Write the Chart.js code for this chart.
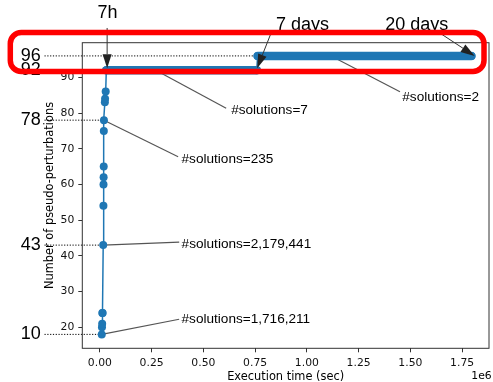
<!DOCTYPE html>
<html>
<head>
<meta charset="utf-8">
<script src="https://cdn.jsdelivr.net/npm/chart.js@4.4.1/dist/chart.umd.min.js"></script>
<style>
  body { margin: 0; background: #fff; }
  #wrap { width: 493px; height: 382px; }
</style>
</head>
<body>
<div id="wrap"><canvas id="myChart" width="493" height="382"></canvas></div>
<script>
// execution time (sec) vs number of pseudo-perturbations
var timeSec = [9000, 10000, 11000, 12000, 13000, 16000, 17000, 17500, 18000, 18500, 19000, 19500,
    24000, 25000, 28000, 31000, 758000, 762000, 1795000];
var pseudoPert = [18, 20, 21, 24, 24, 43, 54, 60, 62, 65, 75, 78, 83, 84, 86, 92, 92, 96, 96];

// the two long plateaus (drawn with dense markers in the original)
var plateau92Time = [31000, 758000];
var plateau92Val = [92, 92];
var plateau96Time = [762000, 1795000];
var plateau96Val = [96, 96];

var xTicks = [0, 250000, 500000, 750000, 1000000, 1250000, 1500000, 1750000];
var yTicks = [20, 30, 40, 50, 60, 70, 80, 90];

// big numbers on the left with their dotted guide lines
var sideLabels = ['96', '92', '78', '43', '10'];
var sideLabelY = [96, 92, 78, 43, 18];
var sideLineEndX = [762000, 31000, 19500, 16000, 9000];

// "#solutions" notes: anchor in data units, text / line end as pixel offsets
var solTexts = ['#solutions=7', '#solutions=2', '#solutions=235', '#solutions=2,179,441', '#solutions=1,716,211'];
var solAnchorX = [270000, 1117000, 19500, 16000, 9000];
var solAnchorY = [92, 96, 78, 43, 18];
var solTextOff = [[75.4, 40.5], [71.2, 41.8], [77.6, 38.8], [78.4, -0.7], [79.8, -14.9]];
var solLineEnd = [[70.4, 38.1], [68.9, 35.8], [74.2, 36.5], [76, -2.9], [77.4, -15.1]];

// arrows with time labels
var arrowTexts = ['7h', '7 days', '20 days'];
var arrowX = [35000, 760000, 1795000];
var arrowY = [92, 92, 96];
var arrowTip = [[0, -2], [0, -2], [3.2, 0]];
var arrowTail = [[0, -42.2], [13.9, -37.2], [-30.1, -21.9]];
var arrowTextOff = [[0.4, -56.9], [45.3, -45.2], [-54.6, -30.9]];

const BLUE = '#1f77b4';
const SANS = '"Liberation Sans", Arial, sans-serif';
const DJV = '"DejaVu Sans", sans-serif';

function pts(xs, ys) {
    return xs.map((x, i) => ({x: x, y: ys[i]}));
}

function arrowHead(ctx, x0, y0, x1, y1) {
    var a = Math.atan2(y1 - y0, x1 - x0);
    var len = 14, hw = 4.5;
    var bx = x1 - len * Math.cos(a), by = y1 - len * Math.sin(a);
    ctx.strokeStyle = '#333';
    ctx.lineWidth = 1;
    ctx.beginPath();
    ctx.moveTo(x0, y0);
    ctx.lineTo(bx, by);
    ctx.stroke();
    ctx.fillStyle = '#222';
    ctx.beginPath();
    ctx.moveTo(x1, y1);
    ctx.lineTo(bx + hw * Math.sin(a), by - hw * Math.cos(a));
    ctx.lineTo(bx - hw * Math.sin(a), by + hw * Math.cos(a));
    ctx.closePath();
    ctx.fill();
}

const under = {
    id: 'under',
    beforeDatasetsDraw(chart) {
        const ctx = chart.ctx, xs = chart.scales.x, ys = chart.scales.y;
        ctx.save();
        // dotted guides
        ctx.strokeStyle = '#000';
        ctx.lineWidth = 1;
        ctx.setLineDash([1.2, 1.6]);
        for (var i = 0; i < sideLabels.length; i++) {
            var py = ys.getPixelForValue(sideLabelY[i]);
            ctx.beginPath();
            ctx.moveTo(44.5, py);
            ctx.lineTo(xs.getPixelForValue(sideLineEndX[i]), py);
            ctx.stroke();
        }
        ctx.setLineDash([]);
        // connector lines to notes
        ctx.strokeStyle = '#555';
        ctx.lineWidth = 1.2;
        for (var j = 0; j < solTexts.length; j++) {
            var ax = xs.getPixelForValue(solAnchorX[j]), ay = ys.getPixelForValue(solAnchorY[j]);
            ctx.beginPath();
            ctx.moveTo(ax, ay);
            ctx.lineTo(ax + solLineEnd[j][0], ay + solLineEnd[j][1]);
            ctx.stroke();
        }
        ctx.restore();
    }
};

const over = {
    id: 'over',
    afterDatasetsDraw(chart) {
        const ctx = chart.ctx, xs = chart.scales.x, ys = chart.scales.y, ca = chart.chartArea;
        ctx.save();
        // axes box
        ctx.strokeStyle = '#333';
        ctx.lineWidth = 1;
        ctx.strokeRect(ca.left, ca.top, ca.right - ca.left, ca.bottom - ca.top);

        // notes
        ctx.fillStyle = '#000';
        ctx.font = '13.6px ' + SANS;
        ctx.textAlign = 'left';
        ctx.textBaseline = 'middle';
        for (var j = 0; j < solTexts.length; j++) {
            var ax = xs.getPixelForValue(solAnchorX[j]), ay = ys.getPixelForValue(solAnchorY[j]);
            ctx.fillText(solTexts[j], ax + solTextOff[j][0], ay + solTextOff[j][1]);
        }

        // arrows
        ctx.font = '18px ' + SANS;
        ctx.textAlign = 'center';
        for (var k = 0; k < arrowTexts.length; k++) {
            var bx = xs.getPixelForValue(arrowX[k]), by = ys.getPixelForValue(arrowY[k]);
            arrowHead(ctx, bx + arrowTail[k][0], by + arrowTail[k][1], bx + arrowTip[k][0], by + arrowTip[k][1]);
            ctx.fillStyle = '#000';
            ctx.fillText(arrowTexts[k], bx + arrowTextOff[k][0], by + arrowTextOff[k][1]);
        }

        // big side labels
        ctx.textAlign = 'right';
        for (var i = 0; i < sideLabels.length; i++) {
            ctx.fillText(sideLabels[i], 40.7, ys.getPixelForValue(sideLabelY[i]));
        }

        // axis titles
        ctx.font = '11.4px ' + DJV;
        ctx.textAlign = 'center';
        ctx.fillText('Execution time (sec)', (ca.left + ca.right) / 2, 377);
        ctx.font = '10.8px ' + DJV;
        ctx.fillText('1e6', 481.5, 376);
        ctx.save();
        ctx.translate(50, (ca.top + ca.bottom) / 2);
        ctx.rotate(-Math.PI / 2);
        ctx.font = '11.4px ' + DJV;
        ctx.fillText('Number of pseudo-perturbations', 0, 0);
        ctx.restore();

        // red highlight box
        ctx.strokeStyle = '#ff0000';
        ctx.lineWidth = 5.5;
        ctx.beginPath();
        ctx.roundRect(10.3, 32.5, 484 - 10.3, 71.5 - 32.5, 11);
        ctx.stroke();
        ctx.restore();
    }
};

const GRAPH = document.getElementById('myChart');
const lineChart = new Chart(GRAPH, {
    type: 'line',
    data: {
        datasets: [{
            data: pts(timeSec, pseudoPert),
            borderColor: BLUE,
            backgroundColor: BLUE,
            borderWidth: 1.5,
            pointRadius: 4,
            pointBorderWidth: 0,
            pointBackgroundColor: BLUE
        }, {
            data: pts(plateau92Time, plateau92Val),
            borderColor: BLUE,
            borderWidth: 8.5,
            borderCapStyle: 'round',
            pointRadius: 0
        }, {
            data: pts(plateau96Time, plateau96Val),
            borderColor: BLUE,
            borderWidth: 8.5,
            borderCapStyle: 'round',
            pointRadius: 0
        }]
    },
    options: {
        responsive: false,
        animation: false,
        layout: {padding: {top: 42.7, right: 1.3, left: 0, bottom: 0}},
        plugins: {legend: {display: false}, tooltip: {enabled: false}},
        scales: {
            x: {
                type: 'linear',
                min: -85000,
                max: 1880000,
                afterBuildTicks: s => { s.ticks = xTicks.map(v => ({value: v})); },
                afterFit: s => { s.height = 33.7; },
                grid: {drawOnChartArea: false, tickLength: 4, color: '#333'},
                border: {display: false},
                ticks: {
                    color: '#111',
                    padding: 4,
                    maxRotation: 0,
                    font: {family: 'DejaVu Sans', size: 10.8},
                    callback: v => (v / 1e6).toFixed(2)
                }
            },
            y: {
                type: 'linear',
                min: 14.1,
                max: 99.7,
                afterBuildTicks: s => { s.ticks = yTicks.map(v => ({value: v})); },
                afterFit: s => { s.width = 82.3; },
                grid: {drawOnChartArea: false, tickLength: 4, color: '#333'},
                border: {display: false},
                ticks: {
                    color: '#111',
                    padding: 4,
                    font: {family: 'DejaVu Sans', size: 10.8},
                    callback: v => String(v)
                }
            }
        }
    },
    plugins: [under, over]
});
</script>
</body>
</html>
